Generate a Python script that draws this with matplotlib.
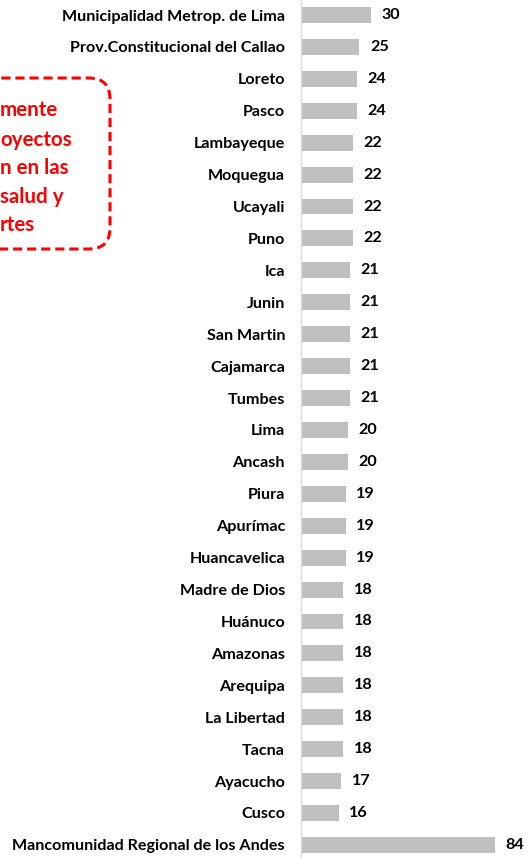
import matplotlib
matplotlib.use("Agg")
import matplotlib.pyplot as plt
from matplotlib.patches import FancyBboxPatch

plt.rcParams['font.family'] = ['Lato', 'DejaVu Sans']

categories = [
    "Municipalidad Metrop. de Lima", "Prov.Constitucional del Callao", "Loreto", "Pasco",
    "Lambayeque", "Moquegua", "Ucayali", "Puno", "Ica", "Junin", "San Martin",
    "Cajamarca", "Tumbes", "Lima", "Ancash", "Piura", "Apurímac", "Huancavelica",
    "Madre de Dios", "Huánuco", "Amazonas", "Arequipa", "La Libertad", "Tacna",
    "Ayacucho", "Cusco", "Mancomunidad Regional de los Andes",
]
values = [30, 25, 24, 24, 22, 22, 22, 22, 21, 21, 21, 21, 21, 20, 20, 19, 19, 19,
          18, 18, 18, 18, 18, 18, 17, 16, 84]
note_lines = ["mente", "oyectos", "n en las", "salud y", "rtes"]

W, H = 530, 858
DPI = 100
fig = plt.figure(figsize=(W / DPI, H / DPI), dpi=DPI)

ax_left = 301
pitch = 31.92
first = 15
ax = fig.add_axes([ax_left / W, 0, (W - ax_left) / W, 1])
ax.set_xlim(0, (W - ax_left) / 2.3)
ax.set_ylim((H - first) / pitch, -first / pitch)

FS = 11.6
ypos = list(range(len(categories)))
ax.barh(ypos, values, height=0.5, color="#BFBFBF", left=0.4)
for y, v in zip(ypos, values):
    ax.text(v + 0.4 + 4.6, y, str(v), va="center", ha="left", fontsize=FS,
            fontweight="bold", color="black")

ax.set_yticks(ypos)
ax.set_yticklabels(categories, fontsize=FS, fontweight="bold")
ax.tick_params(axis="y", length=0, pad=11.5)
ax.set_xticks([])
for s in ["top", "right", "bottom"]:
    ax.spines[s].set_visible(False)
ax.spines["left"].set_color("#D9D9D9")
ax.spines["left"].set_linewidth(1)

# red dashed note box (partly outside the figure)
bx0, by0, bx1, by1 = -60, 78, 110, 249
box = FancyBboxPatch((bx0 / W, 1 - by1 / H), (bx1 - bx0) / W, (by1 - by0) / H,
                     boxstyle="round,pad=0,rounding_size=0.04",
                     transform=fig.transFigure, fill=False, edgecolor="#FF0000",
                     linewidth=2.2, linestyle=(0, (3, 1.6)), mutation_aspect=W / H)
fig.patches.append(box)
line_y = [110, 140, 168, 197, 225]
for t, yy in zip(note_lines, line_y):
    fig.text(0 / W, 1 - yy / H, t, ha="left", va="center", fontsize=14.8,
             fontweight="bold", color="#FF0000")

fig.savefig("out.png", dpi=DPI)
